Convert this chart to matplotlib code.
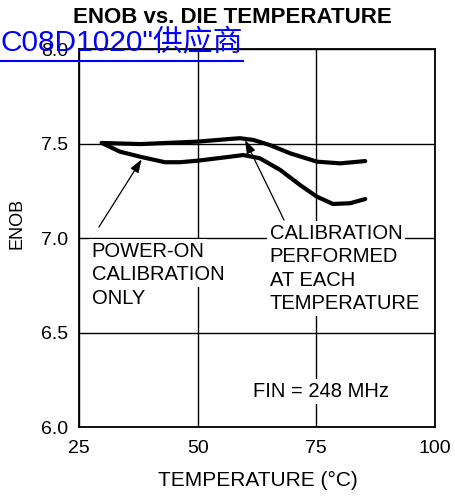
import matplotlib
matplotlib.use("Agg")
import matplotlib.pyplot as plt
from matplotlib.lines import Line2D

plt.rcParams['font.family'] = ['Liberation Sans', 'Noto Sans CJK SC', 'DejaVu Sans']

# ENOB vs die temperature
temp_each = [29.8, 37.9, 50.0, 56.8, 58.9, 61.7, 65.2, 69.5, 75.1, 80.0, 85.3]
enob_each = [7.503, 7.497, 7.510, 7.524, 7.528, 7.519, 7.492, 7.448, 7.404, 7.395, 7.407]

temp_once = [29.8, 33.6, 37.9, 43.1, 46.3, 50.0, 56.8, 59.6, 63.1, 67.4, 71.6, 75.1, 78.5, 82.1, 85.3]
enob_once = [7.503, 7.457, 7.430, 7.401, 7.401, 7.409, 7.430, 7.439, 7.422, 7.360, 7.280, 7.219, 7.180, 7.184, 7.206]

x_ticks = [25, 50, 75, 100]
y_ticks = [6.0, 6.5, 7.0, 7.5, 8.0]

left_label = ["POWER-ON", "CALIBRATION", "ONLY"]
right_label = ["CALIBRATION", "PERFORMED", "AT EACH", "TEMPERATURE"]
fin_label = "FIN = 248 MHz"

title = "ENOB vs. DIE TEMPERATURE"
watermark = 'C08D1020"供应商'

fig = plt.figure(figsize=(4.55, 4.97), dpi=100)
ax = fig.add_axes([0.1736, 0.1408, 0.7824, 0.7606])

ax.set_xlim(25, 100)
ax.set_ylim(6.0, 8.0)
ax.set_xticks(x_ticks)
ax.set_yticks(y_ticks)
ax.set_xticklabels([str(t) for t in x_ticks])
ax.set_yticklabels(["%.1f" % t for t in y_ticks])
ax.tick_params(axis='both', length=0, labelsize=14, colors='black')
ax.tick_params(axis='y', pad=7.5)
ax.tick_params(axis='x', pad=9)
ax.grid(True, color='black', linewidth=1.0)
ax.set_axisbelow(True)
for sp in ax.spines.values():
    sp.set_linewidth(1.3)
    sp.set_color('black')

ax.plot(temp_each, enob_each, color='black', lw=3.0, solid_joinstyle='round',
        solid_capstyle='round', zorder=4)
ax.plot(temp_once, enob_once, color='black', lw=3.0, solid_joinstyle='round',
        solid_capstyle='round', zorder=4)

arrow = dict(arrowstyle='-|>,head_length=0.8,head_width=0.28', color='black',
             lw=0.9, shrinkA=0, shrinkB=0)
ax.annotate("", xy=(38.2, 7.416), xytext=(29.2, 7.058), arrowprops=arrow, zorder=5)
ax.annotate("", xy=(60.0, 7.518), xytext=(68.2, 7.095), arrowprops=arrow, zorder=5)

# labels, one text per line, each on a white box that hides the grid
box = dict(facecolor='white', edgecolor='none', pad=2.0)
step = 0.125
for i, s in enumerate(left_label):
    ax.text(27.7, 6.901 - i * step, s, fontsize=14.5, va='baseline', ha='left',
            bbox=box, zorder=3)
for i, s in enumerate(right_label):
    ax.text(65.2, 6.997 - i * step, s, fontsize=14.5, va='baseline', ha='left',
            bbox=box, zorder=3)
ax.text(61.65, 6.160, fin_label, fontsize=14.5, va='baseline', ha='left',
        bbox=box, zorder=3)

fig.text(17 / 455, 1 - 223 / 497, "ENOB", rotation=90, fontsize=13,
         ha='center', va='center')
fig.text(257.5 / 455, 1 - 486 / 497, "TEMPERATURE (°C)", fontsize=15,
         ha='center', va='baseline')
fig.text(232.5 / 455, 1 - 23 / 497, title, fontsize=16, fontweight='bold',
         ha='center', va='baseline')

wm = fig.text(0.0, 1 - 50 / 497, watermark, fontsize=21.5, color='#0000ff',
              ha='left', va='baseline', zorder=10)
fig.canvas.draw()
bb = wm.get_window_extent().transformed(fig.transFigure.inverted())
y_ul = 1 - 61 / 497
fig.add_artist(Line2D([0.0, bb.x1], [y_ul, y_ul], color='#0000ff', lw=1.5,
                      transform=fig.transFigure, zorder=10))

plt.savefig("out.png", dpi=100)
